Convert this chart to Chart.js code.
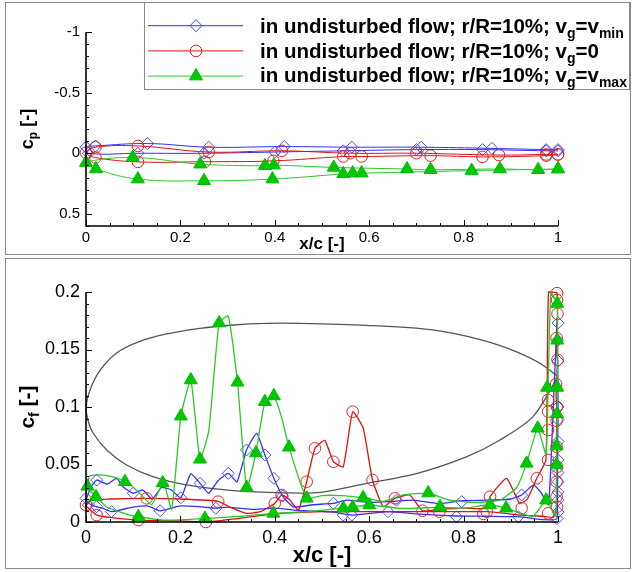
<!DOCTYPE html>
<html>
<head>
<meta charset="utf-8">
<script src="https://cdn.jsdelivr.net/npm/chart.js@4.4.0/dist/chart.umd.min.js"></script>
<style>
  body { margin: 0; background: #fff; }
  #wrap { position: relative; width: 632px; height: 572px; overflow: hidden;
          font-family: "Liberation Sans", Arial, sans-serif; }
  .frame { position: absolute; border: 1px solid #8a8a8a; box-sizing: border-box; }
  canvas { position: absolute; left: 0; }
  .lbl { position: absolute; font-weight: bold; white-space: nowrap; color: #000; z-index: 5; }
  .leg { font-size: 20.5px; line-height: 20px; left: 260px; }
  .leg .sb { font-size: 14px; position: relative; top: 5px; }
  .sb { position: relative; }
</style>
</head>
<body>
<div id="wrap">
  <div class="frame" style="left:5px;top:2px;width:626px;height:253px"></div>
  <div class="frame" style="left:5px;top:258px;width:626px;height:311px"></div>

  <canvas id="cpChart" width="632" height="256" style="top:0"></canvas>
  <canvas id="cfChart" width="632" height="316" style="top:256px"></canvas>

  <div class="lbl leg" style="top:16.4px">in undisturbed flow; r/R=10%; v<span class="sb">g</span>=v<span class="sb">min</span></div>
  <div class="lbl leg" style="top:40.9px">in undisturbed flow; r/R=10%; v<span class="sb">g</span>=0</div>
  <div class="lbl leg" style="top:65.4px">in undisturbed flow; r/R=10%; v<span class="sb">g</span>=v<span class="sb">max</span></div>

  <div class="lbl" style="left:322px;top:235px;font-size:17px;line-height:17px;transform:translateX(-50%)">x/c [-]</div>
  <div class="lbl" style="left:28px;top:129px;font-size:18px;line-height:18px;transform:translate(-50%,-50%) rotate(-90deg)">c<span class="sb" style="font-size:12px;top:4px">p</span> [-]</div>

  <div class="lbl" style="left:322px;top:544px;font-size:22px;line-height:22px;transform:translateX(-50%)">x/c [-]</div>
  <div class="lbl" style="left:28px;top:407px;font-size:21px;line-height:21px;transform:translate(-50%,-50%) rotate(-90deg)">c<span class="sb" style="font-size:14px;top:5px">f</span> [-]</div>
</div>

<script>
// ──────────────────────────────────────────────
//  Data: pressure coefficient (top panel)
//  upper side runs TE -> LE, lower side LE -> TE
// ──────────────────────────────────────────────
const xTicks  = [0, 0.2, 0.4, 0.6, 0.8, 1];
const cpTicks = [-1, -0.5, 0, 0.5];
const cfTicks = [0, 0.05, 0.1, 0.15, 0.2];

const cpUpX_vmin = [1.0, 0.975, 0.86, 0.71, 0.563, 0.42, 0.26, 0.13, 0.02, 0.0];
const cpUp_vmin  = [-0.03, -0.03, -0.04, -0.05, -0.05, -0.055, -0.05, -0.08, -0.06, -0.05];
const cpLoX_vmin = [0.005, 0.11, 0.25, 0.40, 0.545, 0.70, 0.84, 0.975, 1.0];
const cpLo_vmin  = [0.0, 0.0, 0.0, -0.01, -0.02, -0.03, -0.03, -0.02, -0.02];

const cpUpX_v0 = [1.0, 0.975, 0.875, 0.70, 0.56, 0.415, 0.26, 0.11, 0.02, 0.0];
const cpUp_v0  = [0.01, 0.01, 0.015, 0.0, 0.0, -0.02, -0.01, -0.06, -0.05, -0.005];
const cpLoX_v0 = [0.02, 0.11, 0.252, 0.397, 0.545, 0.584, 0.73, 0.84, 0.975, 1.0];
const cpLo_v0  = [0.035, 0.071, 0.07, 0.063, 0.027, 0.027, 0.02, 0.03, 0.02, 0.01];

const cpUpX_vmax = [1.0, 0.958, 0.877, 0.73, 0.68, 0.525, 0.398, 0.379, 0.242, 0.099, 0.0];
const cpUp_vmax  = [0.13, 0.136, 0.13, 0.136, 0.13, 0.117, 0.098, 0.104, 0.09, 0.035, 0.077];
const cpLoX_vmax = [0.021, 0.11, 0.25, 0.395, 0.545, 0.565, 0.584, 0.817, 1.0];
const cpLo_vmax  = [0.13, 0.213, 0.227, 0.213, 0.17, 0.164, 0.164, 0.143, 0.13];

// ──────────────────────────────────────────────
//  Data: skin friction (bottom panel)
//  line = full traced curve, marks = symbols
// ──────────────────────────────────────────────
const cfLineX_vmin = [0.0,0.01,0.0226,0.045,0.065,0.08,0.1,0.12,0.14,0.16,0.18,0.201,0.222,0.2415,0.26,0.28,0.3015,0.32,0.34,0.3616,0.379,0.398,0.4165,0.44,0.48,0.524,0.552,0.60,0.644,0.693,0.75,0.796,0.85,0.90,0.923,0.948,0.965,0.98,0.99,0.998,0.999,1.0,0.999,0.998,0.97,0.916,0.85,0.785,0.70,0.64,0.563,0.524,0.45,0.40,0.35,0.30,0.275,0.25,0.20,0.157,0.13,0.10,0.054,0.035,0.0226,0.01,0.0];
const cfLine_vmin  = [0.019,0.03,0.0365,0.033,0.038,0.03,0.025,0.028,0.02,0.03,0.028,0.0211,0.042,0.0336,0.025,0.036,0.0423,0.035,0.0626,0.0771,0.0583,0.038,0.0226,0.013,0.015,0.0162,0.019,0.017,0.0177,0.019,0.016,0.0186,0.019,0.02,0.0235,0.032,0.025,0.015,0.10,0.175,0.158,0.10,0.05,0.003,0.002,0.0046,0.005,0.0052,0.007,0.009,0.006,0.0085,0.01,0.012,0.011,0.013,0.012,0.013,0.014,0.0098,0.014,0.013,0.009,0.012,0.0133,0.015,0.019];
const cfMarkX_vmin = [0.0,0.005,0.0226,0.0226,0.054,0.1,0.157,0.201,0.2415,0.275,0.3015,0.34,0.379,0.398,0.4165,0.524,0.545,0.563,0.64,0.658,0.785,0.796,0.916,0.923,0.998,1.0,0.999,1.0,1.0,1.0,1.0,1.0,1.0,1.0,1.0,1.0,1.0];
const cfMark_vmin  = [0.0206,0.0148,0.0365,0.0133,0.009,0.025,0.0098,0.0211,0.0336,0.012,0.0423,0.0626,0.0583,0.038,0.0226,0.0162,0.006,0.006,0.009,0.019,0.0046,0.0177,0.0046,0.0235,0.003,0.173,0.158,0.10,0.089,0.07,0.054,0.043,0.035,0.026,0.019,0.0086,0.14];

const cfLineX_v0 = [0.0,0.01,0.05,0.1285,0.2,0.28,0.31,0.34,0.37,0.40,0.4145,0.43,0.45,0.4675,0.485,0.506,0.524,0.545,0.565,0.5875,0.607,0.63,0.6545,0.686,0.713,0.75,0.80,0.849,0.856,0.891,0.919,0.935,0.955,0.9745,0.98,0.998,0.999,0.997,0.999,0.996,0.998,0.997,0.997,0.998,0.997,0.997,0.99,0.97,0.923,0.85,0.75,0.6,0.5,0.4,0.3,0.254,0.2,0.111,0.05,0.0226,0.0];
const cfLine_v0  = [0.014,0.019,0.020,0.0206,0.020,0.018,0.012,0.0075,0.009,0.0162,0.0235,0.02,0.0104,0.035,0.064,0.071,0.0524,0.048,0.0959,0.0814,0.0365,0.0133,0.0206,0.0235,0.0098,0.011,0.012,0.012,0.022,0.038,0.016,0.02,0.038,0.054,0.2,0.199,0.181,0.145,0.141,0.11,0.096,0.08,0.0655,0.048,0.035,0.0133,0.004,0.005,0.006,0.009,0.009,0.009,0.009,0.007,0.002,0.0,0.001,0.0017,0.004,0.006,0.014];
const cfMarkX_v0 = [0.0,0.0226,0.111,0.1285,0.254,0.28,0.40,0.4145,0.4675,0.485,0.524,0.565,0.607,0.6545,0.713,0.7485,0.842,0.849,0.856,0.923,0.955,0.979,0.979,0.979,0.979,0.979,0.998,0.998,0.999,0.997,0.999,0.996,0.998,0.997,0.997,0.998,0.997,0.997,0.998];
const cfMark_v0  = [0.0148,0.006,0.0017,0.0206,0.0,0.0177,0.0162,0.0235,0.035,0.064,0.0524,0.0959,0.0365,0.0206,0.0098,0.009,0.007,0.009,0.022,0.012,0.038,0.096,0.106,0.08,0.054,0.0075,0.199,0.193,0.181,0.16,0.141,0.12,0.10,0.088,0.0655,0.048,0.035,0.022,0.0133];

const cfLineX_vmax = [0.0,0.008,0.03,0.06,0.086,0.114,0.139,0.164,0.1815,0.201,0.222,0.2415,0.26,0.282,0.3015,0.321,0.3404,0.36,0.379,0.398,0.415,0.43,0.4675,0.50,0.54,0.587,0.63,0.672,0.725,0.771,0.828,0.877,0.9125,0.9335,0.957,0.9745,0.979,0.985,0.998,0.999,0.9985,0.9985,0.997,0.995,0.975,0.947,0.89,0.856,0.80,0.75,0.70,0.66,0.60,0.565,0.545,0.47,0.397,0.33,0.252,0.163,0.111,0.093,0.044,0.021,0.0];
const cfLine_vmax  = [0.031,0.040,0.041,0.039,0.035,0.025,0.015,0.034,0.011,0.092,0.1235,0.0545,0.079,0.173,0.179,0.1215,0.029,0.060,0.1046,0.1096,0.09,0.065,0.0206,0.023,0.023,0.021,0.018,0.0235,0.025,0.019,0.017,0.019,0.030,0.051,0.0815,0.059,0.118,0.2,0.19,0.158,0.118,0.092,0.05,0.005,0.019,0.005,0.012,0.015,0.012,0.013,0.012,0.012,0.015,0.013,0.012,0.009,0.0075,0.005,0.003,0.0017,0.0046,0.006,0.013,0.022,0.031];
const cfMarkX_vmax = [0.003,0.021,0.0826,0.111,0.1625,0.201,0.222,0.2415,0.252,0.282,0.321,0.3404,0.36,0.379,0.398,0.397,0.43,0.4675,0.545,0.565,0.587,0.6,0.725,0.75,0.856,0.89,0.9335,0.957,0.975,0.977,0.9985,0.9985,0.9985,0.998,0.997,0.997];
const cfMark_vmax  = [0.031,0.022,0.035,0.0046,0.034,0.092,0.1235,0.0545,0.003,0.173,0.1215,0.030,0.060,0.1046,0.1096,0.0075,0.065,0.0206,0.012,0.0128,0.021,0.0148,0.0252,0.0133,0.0148,0.012,0.051,0.0815,0.019,0.117,0.19,0.158,0.117,0.094,0.066,0.05];

// airfoil contour drawn in cf coordinates (TE -> upper -> LE -> lower -> TE)
const foilX = [1.0,0.962,0.9125,0.841,0.735,0.595,0.453,0.383,0.312,0.2415,0.171,0.114,0.065,0.03,0.0085,0.0,0.004,0.015,0.044,0.086,0.142,0.213,0.312,0.418,0.496,0.595,0.70,0.807,0.877,0.947,1.0];
const foilY = [0.1264,0.138,0.148,0.158,0.167,0.171,0.1727,0.1727,0.1713,0.1684,0.1635,0.157,0.147,0.132,0.1148,0.1,0.0887,0.0774,0.0626,0.0496,0.0394,0.0322,0.0272,0.0254,0.0258,0.0336,0.042,0.0568,0.0713,0.0916,0.1264];

// ──────────────────────────────────────────────
//  Styles
// ──────────────────────────────────────────────
const FONT = '"Liberation Sans", Arial, sans-serif';
const STYLE = {
    vmin: { line: '#2f2fff', mark: '#4a4aff', fill: 'rgba(0,0,0,0)', shape: 'rectRot', r: 6 },
    v0:   { line: '#dd1111', mark: '#e02424', fill: 'rgba(0,0,0,0)', shape: 'circle',  r: 5.8 },
    vmax: { line: '#2ac82a', mark: '#00bb00', fill: '#00c800',       shape: 'triangle', r: 7.5 },
};

const pts = (xs, ys) => xs.map((x, i) => ({ x: x, y: ys[i] }));

// ──────────────────────────────────────────────
//  Plugins: inward ticks + axis lines, boxed legend
// ──────────────────────────────────────────────
const inwardAxes = {
    id: 'inwardAxes',
    afterDatasetsDraw(chart, args, opts) {
        const { ctx, chartArea: a } = chart;
        const sx = chart.scales.x, sy = chart.scales.y;
        ctx.save();
        ctx.strokeStyle = '#000';
        ctx.lineWidth = 1;
        ctx.beginPath();
        const mark = (scale, step, isX) => {
            const n = Math.round((scale.max - scale.min) / step);
            for (let i = 0; i <= n; i++) {
                const v = scale.min + i * step;
                const major = scale.ticks.some(t => Math.abs(t.value - v) < step / 10);
                const len = major ? opts.major : opts.minor;
                const p = Math.round(scale.getPixelForValue(v)) + 0.5;
                if (isX) { ctx.moveTo(p, a.bottom); ctx.lineTo(p, a.bottom - len); }
                else { ctx.moveTo(a.left, p); ctx.lineTo(a.left + len, p); }
            }
        };
        mark(sx, opts.minorX, true);
        mark(sy, opts.minorY, false);
        ctx.stroke();
        ctx.lineWidth = 1.6;
        ctx.beginPath();
        ctx.moveTo(a.left, a.top);
        ctx.lineTo(a.left, a.bottom);
        ctx.lineTo(a.right, a.bottom);
        ctx.stroke();
        ctx.restore();
    }
};

function drawMarker(ctx, s, x, y) {
    const r = s.r;
    ctx.beginPath();
    if (s.shape === 'rectRot') {
        ctx.moveTo(x - r, y); ctx.lineTo(x, y - r); ctx.lineTo(x + r, y); ctx.lineTo(x, y + r); ctx.closePath();
    } else if (s.shape === 'circle') {
        ctx.arc(x, y, r, 0, Math.PI * 2);
    } else {
        ctx.moveTo(x, y - r); ctx.lineTo(x + r * 0.866, y + r / 2); ctx.lineTo(x - r * 0.866, y + r / 2); ctx.closePath();
    }
    ctx.fillStyle = s.fill; ctx.fill();
    ctx.strokeStyle = s.mark; ctx.lineWidth = 1; ctx.stroke();
}

const boxLegend = {
    id: 'boxLegend',
    afterDraw(chart) {
        const ctx = chart.ctx;
        ctx.save();
        ctx.fillStyle = '#fff';
        ctx.fillRect(144.5, 2.5, 485, 87);
        ctx.strokeStyle = '#8a8a8a';
        ctx.lineWidth = 1;
        ctx.strokeRect(144.5, 2.5, 485, 87);
        ['vmin', 'v0', 'vmax'].forEach((k, i) => {
            const s = STYLE[k];
            const y = 25.7 + i * 25.2;
            ctx.strokeStyle = s.line;
            ctx.lineWidth = 1;
            ctx.beginPath(); ctx.moveTo(148, y); ctx.lineTo(243, y); ctx.stroke();
            drawMarker(ctx, s, 196, y);
        });
        ctx.restore();
    }
};

// ──────────────────────────────────────────────
//  Shared options
// ──────────────────────────────────────────────
function axes(opt) {
    return {
        x: {
            type: 'linear', min: 0, max: 1,
            grid: { display: false, drawTicks: false },
            border: { display: false },
            afterBuildTicks: s => { s.ticks = xTicks.map(v => ({ value: v })); },
            afterFit: s => { s.height = opt.xHeight; },
            ticks: { color: '#000', padding: opt.xPad, maxRotation: 0, autoSkip: false,
                     font: { family: FONT, size: opt.tickSize }, callback: v => String(v) }
        },
        y: {
            type: 'linear', min: opt.yMin, max: opt.yMax, reverse: opt.reverse,
            grid: { display: false, drawTicks: false },
            border: { display: false },
            afterBuildTicks: s => { s.ticks = opt.yTicks.map(v => ({ value: v })); },
            afterFit: s => { s.width = 86; },
            ticks: { color: '#000', padding: 6, autoSkip: false,
                     font: { family: FONT, size: opt.tickSize }, callback: v => String(v) }
        }
    };
}

function seriesLoop(k, upX, up, loX, lo, order) {
    const s = STYLE[k];
    return {
        data: pts(upX.concat(loX), up.concat(lo)),
        showLine: true, tension: 0.4, borderColor: s.line, borderWidth: 1,
        pointStyle: s.shape, pointRadius: s.r, pointBorderColor: s.mark,
        pointBackgroundColor: s.fill, pointBorderWidth: 1, clip: false, order: order
    };
}

// ──────────────────────────────────────────────
//  Top chart: c_p
// ──────────────────────────────────────────────
new Chart(document.getElementById('cpChart'), {
    type: 'scatter',
    data: {
        datasets: [
            seriesLoop('vmax', cpUpX_vmax, cpUp_vmax, cpLoX_vmax, cpLo_vmax, 1),
            seriesLoop('v0', cpUpX_v0, cpUp_v0, cpLoX_v0, cpLo_v0, 2),
            seriesLoop('vmin', cpUpX_vmin, cpUp_vmin, cpLoX_vmin, cpLo_vmin, 3),
        ]
    },
    options: {
        responsive: false, animation: false, devicePixelRatio: 1,
        layout: { padding: { left: 0, right: 74, top: 32, bottom: 0 } },
        scales: axes({ yMin: -1, yMax: 0.6, reverse: true, yTicks: cpTicks,
                       tickSize: 15, xHeight: 30, xPad: 3 }),
        plugins: {
            legend: { display: false }, tooltip: { enabled: false },
            inwardAxes: { minorX: 0.05, minorY: 0.1, major: 6, minor: 3 }
        }
    },
    plugins: [inwardAxes, boxLegend]
});

// ──────────────────────────────────────────────
//  Bottom chart: c_f with airfoil outline
// ──────────────────────────────────────────────
function cfLine(k, xs, ys, order) {
    return { data: pts(xs, ys), showLine: true, tension: 0.15, borderColor: STYLE[k].line,
             borderWidth: 1.3, pointRadius: 0, clip: false, order: order };
}
function cfMarks(k, xs, ys, order) {
    const s = STYLE[k];
    return { data: pts(xs, ys), showLine: false, pointStyle: s.shape, pointRadius: s.r,
             pointBorderColor: s.mark, pointBackgroundColor: s.fill, pointBorderWidth: 1,
             clip: false, order: order };
}

new Chart(document.getElementById('cfChart'), {
    type: 'scatter',
    data: {
        datasets: [
            cfMarks('vmax', cfMarkX_vmax, cfMark_vmax, 1),
            cfLine('vmax', cfLineX_vmax, cfLine_vmax, 2),
            cfMarks('v0', cfMarkX_v0, cfMark_v0, 3),
            cfLine('v0', cfLineX_v0, cfLine_v0, 4),
            cfMarks('vmin', cfMarkX_vmin, cfMark_vmin, 5),
            cfLine('vmin', cfLineX_vmin, cfLine_vmin, 6),
            { data: pts(foilX, foilY), showLine: true, tension: 0.3, borderColor: '#555',
              borderWidth: 1.3, pointRadius: 0, clip: false, order: 10 }
        ]
    },
    options: {
        responsive: false, animation: false, devicePixelRatio: 1,
        layout: { padding: { left: 0, right: 74, top: 36, bottom: 0 } },
        scales: axes({ yMin: 0, yMax: 0.2, reverse: false, yTicks: cfTicks,
                       tickSize: 18, xHeight: 50, xPad: 5 }),
        plugins: {
            legend: { display: false }, tooltip: { enabled: false },
            inwardAxes: { minorX: 0.05, minorY: 0.01, major: 6, minor: 3 }
        }
    },
    plugins: [inwardAxes]
});
</script>
</body>
</html>
